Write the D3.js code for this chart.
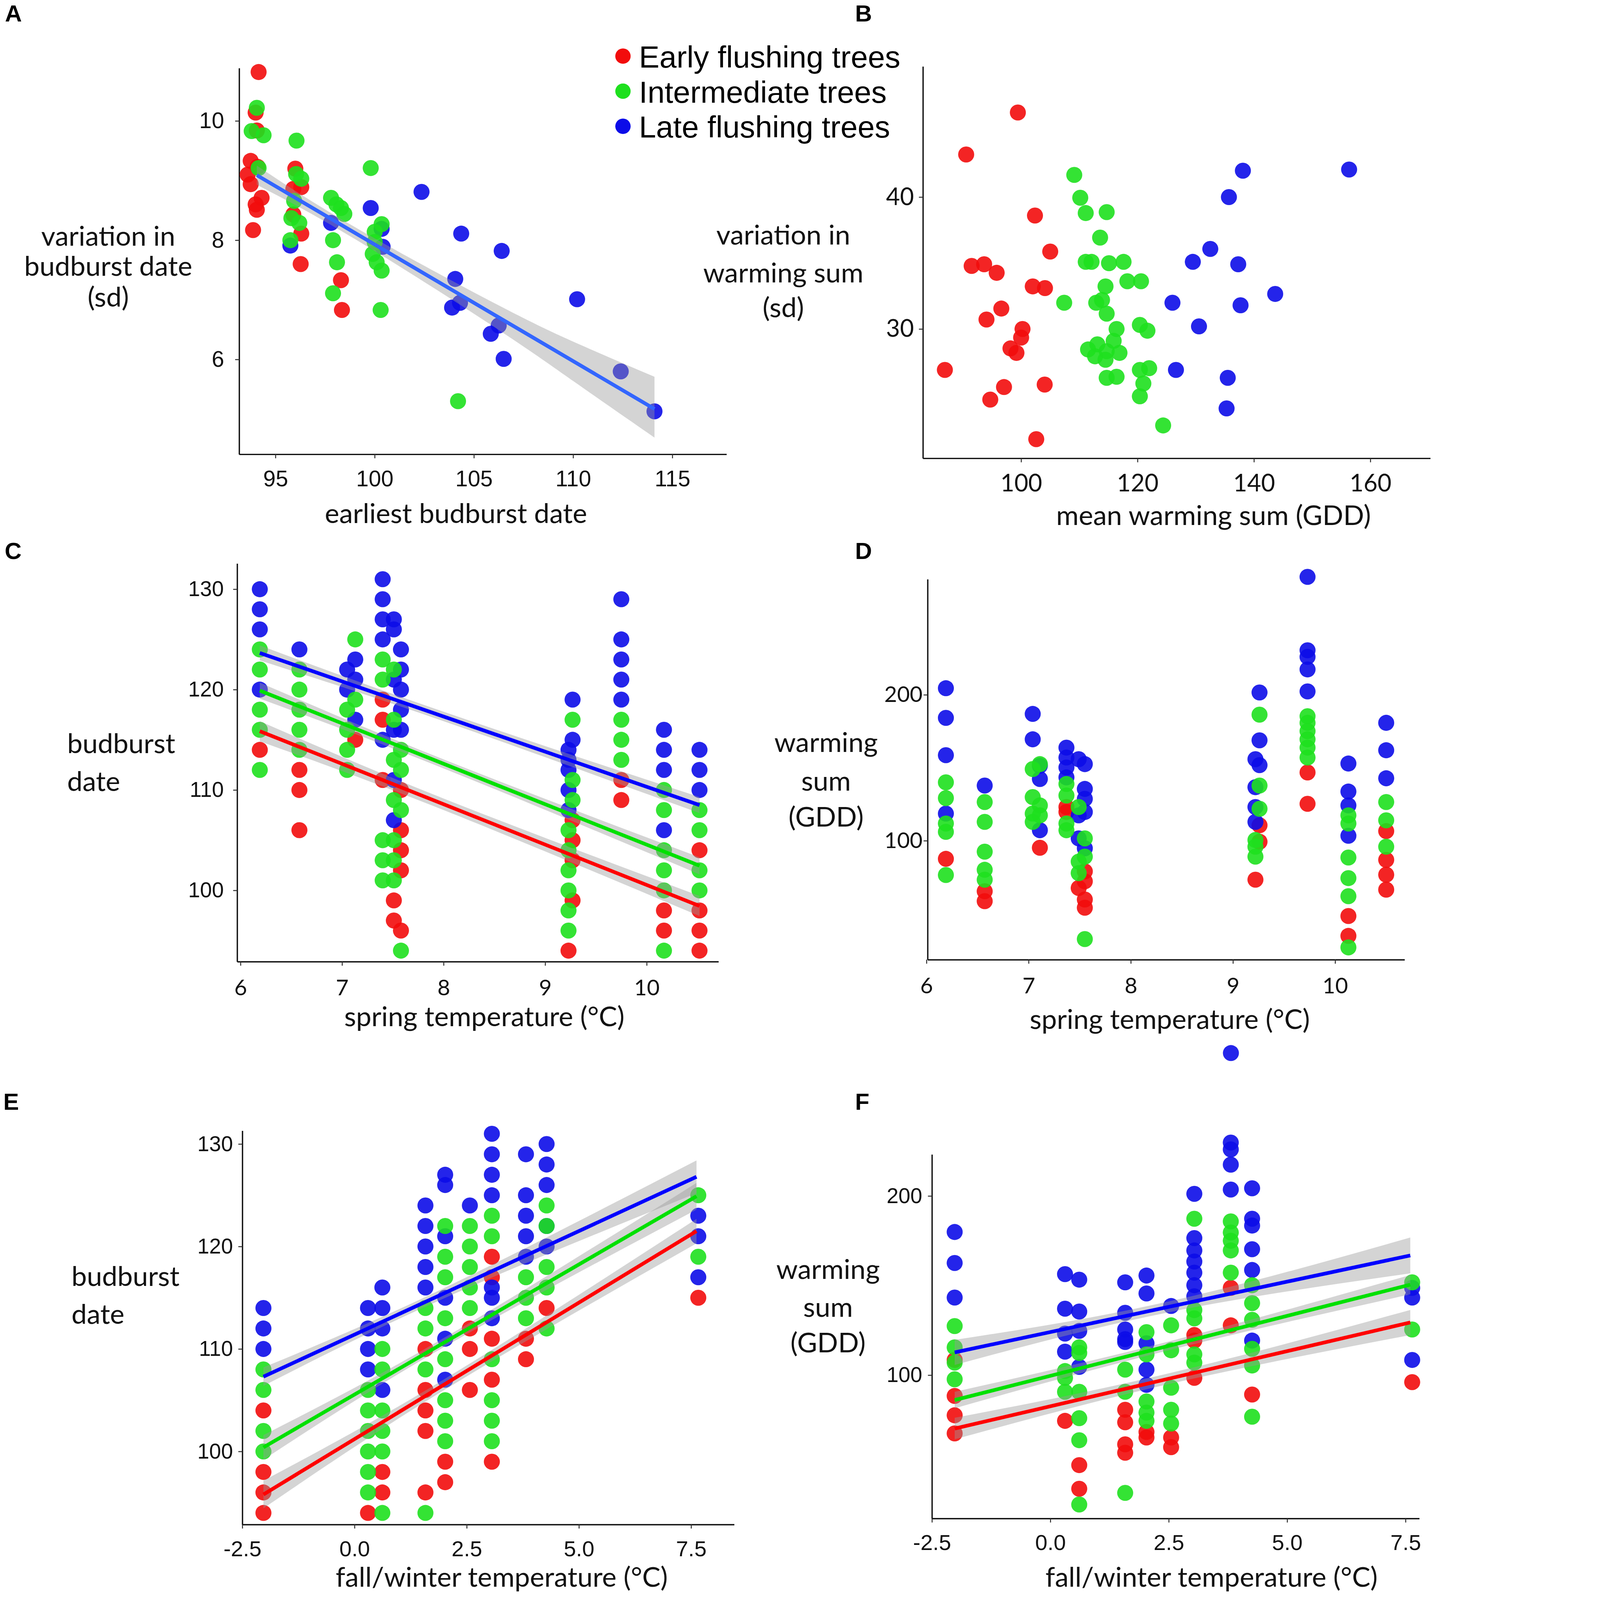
<!DOCTYPE html>
<html>
<head>
<meta charset="utf-8">
<script src="https://cdn.jsdelivr.net/npm/d3@7"></script>
<style>
  html, body { margin: 0; padding: 0; background: #fff; overflow: hidden; }
  #chart svg { display: block; }
</style>
</head>
<body>
<div id="chart"></div>
<script>
// ---- data ----
const groups = ["Early flushing trees", "Intermediate trees", "Late flushing trees"]

// A: earliest budburst date vs variation in budburst date (sd)
const aEarly = [[94.15,10.82],[94.0,10.14],[94.06,9.84],[93.75,9.33],[93.6,9.1],[94.1,9.23],[93.75,8.94],[94.3,8.71],[94.0,8.6],[94.06,8.51],[93.87,8.17],[96.0,9.2],[95.9,8.86],[96.3,8.89],[95.9,8.43],[96.3,8.11],[96.27,7.6],[98.3,7.33],[98.35,6.83]]
const aInter = [[94.06,10.22],[93.8,9.83],[94.4,9.76],[94.15,9.21],[96.06,9.67],[96.04,9.11],[96.3,9.03],[95.94,8.66],[95.8,8.37],[96.2,8.29],[95.75,8.0],[97.8,8.71],[98.07,8.6],[98.3,8.54],[98.47,8.44],[97.9,8.0],[98.1,7.63],[97.9,7.11],[99.8,9.21],[100.0,8.14],[100.35,8.27],[100.0,7.97],[99.9,7.77],[100.1,7.63],[100.35,7.49],[100.3,6.83],[104.2,5.3]]
const aLate = [[95.75,7.91],[97.8,8.29],[99.8,8.54],[100.35,8.19],[100.4,7.89],[102.36,8.81],[104.36,8.11],[106.4,7.82],[104.06,7.35],[103.9,6.87],[104.3,6.95],[105.85,6.43],[106.25,6.57],[106.5,6.01],[110.2,7.01],[112.4,5.8],[114.1,5.13]]
const aFit = [[94.06,9.09],[114.1,5.17]]
const aBand = [[94.06,8.93,9.25],[99,8.02,8.22],[106,6.55,6.95],[110,5.64,6.3],[114.1,4.69,5.71]]

// B: mean warming sum vs variation in warming sum (sd)
const bEarly = [[99.44,46.41],[90.56,43.23],[102.38,38.6],[105.0,35.87],[91.5,34.78],[93.65,34.91],[95.8,34.26],[102.0,33.23],[104.1,33.1],[96.6,31.55],[94.05,30.72],[100.24,30.0],[100.0,29.35],[98.17,28.53],[99.2,28.19],[86.9,26.9],[97.06,25.6],[104.05,25.79],[94.7,24.65],[102.6,21.65]]
const bInter = [[109.13,41.68],[110.16,39.95],[111.1,38.79],[114.7,38.86],[113.57,36.93],[111.1,35.09],[112.1,35.09],[115.1,34.99],[117.6,35.09],[114.5,33.23],[118.25,33.62],[120.6,33.62],[107.4,31.99],[112.9,31.99],[113.9,32.2],[114.7,31.16],[120.4,30.31],[121.7,29.87],[116.4,30.0],[115.9,29.1],[111.5,28.45],[113.1,28.84],[114.7,28.32],[112.7,27.93],[114.5,27.67],[116.9,28.19],[120.4,26.9],[122.0,27.03],[114.7,26.3],[116.4,26.38],[121.0,25.87],[120.4,24.9],[124.4,22.69]]
const bLate = [[138.1,42.0],[156.35,42.09],[135.7,40.0],[132.5,36.07],[129.5,35.09],[137.3,34.91],[143.65,32.66],[126.0,31.99],[137.7,31.8],[130.56,30.2],[126.6,26.9],[135.5,26.3],[135.3,23.98]]

// C: spring temperature vs budburst date
const cEarly = [[6.19,114],[6.58,112],[6.58,110],[6.58,106],[7.13,115],[7.40,119],[7.40,117],[7.40,111],[7.51,99],[7.51,97],[7.58,110],[7.58,106],[7.58,104],[7.58,102],[7.58,96],[9.27,107],[9.27,105],[9.27,103],[9.27,99],[9.23,94],[9.75,111],[9.75,109],[10.17,98],[10.17,96],[10.52,104],[10.52,98],[10.52,96],[10.52,94]]
const cInter = [[6.19,124],[6.19,122],[6.19,118],[6.19,116],[6.19,112],[6.58,122],[6.58,120],[6.58,118],[6.58,116],[6.58,114],[7.13,125],[7.13,119],[7.05,118],[7.05,116],[7.05,114],[7.05,112],[7.40,123],[7.40,121],[7.40,105],[7.40,103],[7.40,101],[7.51,122],[7.51,117],[7.51,113],[7.51,109],[7.51,105],[7.51,103],[7.51,101],[7.58,114],[7.58,112],[7.58,108],[7.58,94],[9.27,117],[9.27,111],[9.27,109],[9.23,106],[9.23,104],[9.23,102],[9.23,100],[9.23,98],[9.23,96],[9.75,117],[9.75,115],[9.75,113],[10.17,110],[10.17,108],[10.17,104],[10.17,102],[10.17,100],[10.17,94],[10.52,108],[10.52,106],[10.52,102],[10.52,100]]
const cLate = [[6.19,130],[6.19,128],[6.19,126],[6.19,120],[6.58,124],[7.05,122],[7.05,120],[7.13,123],[7.13,121],[7.13,117],[7.40,131],[7.40,129],[7.40,127],[7.40,125],[7.40,115],[7.51,127],[7.51,126],[7.51,121],[7.51,116],[7.51,111],[7.51,107],[7.58,124],[7.58,122],[7.58,120],[7.58,118],[7.58,116],[9.27,119],[9.27,115],[9.23,114],[9.23,113],[9.23,112],[9.23,110],[9.23,108],[9.75,129],[9.75,125],[9.75,123],[9.75,121],[9.75,119],[10.17,116],[10.17,114],[10.17,112],[10.17,106],[10.52,114],[10.52,112],[10.52,110]]
const cFits = [[[6.19,115.86],[10.52,98.45]], [[6.19,119.9],[10.52,102.46]], [[6.19,123.65],[10.52,108.5]]]
const cBands = [
	[[6.19,114.85,116.85],[8,108.0,109.15],[10.52,97.45,99.45]],
	[[6.19,119.1,120.7],[8,112.15,113.05],[10.52,101.6,103.3]],
	[[6.19,122.9,124.4],[8,116.85,117.8],[10.52,107.7,109.3]]
]

// D: spring temperature vs warming sum (GDD)
const dEarly = [[6.19,87.6],[6.57,65.4],[6.57,58.6],[7.11,95.2],[7.37,123.1],[7.37,119.7],[7.49,67.6],[7.55,79.0],[7.55,72.2],[7.55,59.7],[7.55,54.1],[9.26,110.6],[9.26,99.3],[9.22,73.3],[9.73,146.8],[9.73,125.3],[10.13,48.4],[10.13,34.8],[10.5,106.6],[10.5,86.9],[10.5,76.7],[10.5,66.5]]
const dInter = [[6.19,140],[6.19,129.2],[6.19,111.8],[6.19,106.1],[6.19,76.5],[6.57,126.5],[6.57,112.9],[6.57,92.5],[6.57,80.1],[6.57,73.3],[7.04,149.1],[7.11,152.5],[7.04,129.9],[7.11,124.2],[7.04,118.6],[7.04,112.9],[7.11,117.4],[7.37,138.9],[7.37,131.0],[7.37,111.8],[7.37,107.2],[7.49,123.1],[7.55,101.6],[7.49,85.7],[7.55,89.1],[7.49,77.8],[7.55,32.6],[9.26,186.4],[9.26,137.8],[9.26,121.9],[9.22,100.5],[9.22,89.1],[9.22,95.9],[9.73,185.3],[9.73,180.8],[9.73,175.1],[9.73,169.5],[9.73,163.8],[9.73,157.0],[10.13,117.4],[10.13,111.8],[10.13,88.5],[10.13,74.4],[10.13,62.0],[10.13,26.9],[10.5,126.5],[10.5,114.0],[10.5,95.9]]
const dLate = [[6.19,204.5],[6.19,184.2],[6.19,158.6],[6.19,118.6],[6.57,137.8],[7.04,186.9],[7.04,169.5],[7.11,151.4],[7.11,142.3],[7.11,107.2],[7.37,163.8],[7.37,157.0],[7.37,150.2],[7.37,143.4],[7.49,155.9],[7.55,152.5],[7.55,135.5],[7.55,128.7],[7.55,119.7],[7.49,117.4],[7.49,101.6],[7.55,94.8],[9.26,201.6],[9.26,168.8],[9.22,155.9],[9.26,151.8],[9.22,136.7],[9.22,123.1],[9.22,112.9],[9.73,280.8],[9.73,230.5],[9.73,226.0],[9.73,217.4],[9.73,202.3],[10.13,152.9],[10.13,133.7],[10.13,124.2],[10.13,103.4],[10.5,180.8],[10.5,162.0],[10.5,142.8],[8.98,-45.5]]

// E: fall/winter temperature vs budburst date
const eEarly = [[-2.03,104],[-2.03,98],[-2.03,96],[-2.03,94],[0.30,94],[0.62,98],[0.62,96],[1.58,110],[1.58,106],[1.58,104],[1.58,102],[1.58,96],[2.02,99],[2.02,97],[2.57,112],[2.57,110],[2.57,106],[3.06,119],[3.06,117],[3.06,111],[3.06,107],[3.06,99],[3.82,111],[3.82,109],[4.28,114],[7.66,115]]
const eInter = [[-2.03,108],[-2.03,106],[-2.03,102],[-2.03,100],[0.30,106],[0.30,104],[0.30,102],[0.30,100],[0.30,98],[0.30,96],[0.62,110],[0.62,108],[0.62,104],[0.62,102],[0.62,100],[0.62,94],[1.58,114],[1.58,112],[1.58,108],[1.58,94],[2.02,122],[2.02,119],[2.02,117],[2.02,113],[2.02,109],[2.02,105],[2.02,103],[2.02,101],[2.57,122],[2.57,120],[2.57,118],[2.57,116],[2.57,114],[3.06,123],[3.06,121],[3.06,109],[3.06,105],[3.06,103],[3.06,101],[3.82,117],[3.82,115],[3.82,113],[4.28,124],[4.28,122],[4.28,118],[4.28,116],[4.28,112],[7.66,125],[7.66,119]]
const eLate = [[-2.03,114],[-2.03,112],[-2.03,110],[0.30,114],[0.30,112],[0.30,110],[0.30,108],[0.62,116],[0.62,114],[0.62,112],[0.62,106],[1.58,124],[1.58,122],[1.58,120],[1.58,118],[1.58,116],[2.02,127],[2.02,126],[2.02,121],[2.02,115],[2.02,111],[2.02,107],[2.57,124],[3.06,131],[3.06,129],[3.06,127],[3.06,125],[3.06,116],[3.06,115],[3.06,113],[3.82,129],[3.82,125],[3.82,123],[3.82,121],[3.82,119],[4.28,130],[4.28,128],[4.28,126],[4.28,122],[4.28,120],[7.66,123],[7.66,121],[7.66,117]]
const eFits = [[[-2.03,95.8],[7.62,121.5]], [[-2.03,100.4],[7.62,124.9]], [[-2.03,107.3],[7.62,126.8]]]
const eBands = [
	[[-2.03,94.45,97.15],[2,106.0,107.05],[7.62,120.3,122.7]],
	[[-2.03,99.2,101.6],[2,110.2,111.1],[7.62,123.6,126.2]],
	[[-2.03,106.4,108.2],[2,114.95,115.95],[7.62,125.2,128.4]]
]

// F: fall/winter temperature vs warming sum (GDD)
const fEarly = [[-2.02,108.5],[-2.02,88.4],[-2.02,77.6],[-2.02,67.5],[0.31,74.5],[0.61,49.8],[0.61,36.6],[1.58,80.7],[1.58,73.7],[1.58,61.4],[1.58,56.7],[2.03,68.3],[2.03,65.2],[2.55,65.2],[2.55,59.8],[3.04,122.4],[3.04,119.3],[3.04,98.5],[3.81,148.7],[3.81,127.8],[4.26,89.2],[7.64,96.1]]
const fInter = [[-2.02,127.4],[-2.02,115.5],[-2.02,107],[-2.02,97.7],[0.31,102.3],[0.31,98.5],[0.31,90.7],[0.61,115.5],[0.61,112.4],[0.61,90.7],[0.61,76.0],[0.61,63.7],[0.61,27.8],[1.58,103.1],[1.58,90.7],[1.58,34.3],[2.03,124.0],[2.03,111.6],[2.03,85.3],[2.03,79.1],[2.03,74.5],[2.55,127.8],[2.55,113.9],[2.55,93.0],[2.55,80.7],[2.55,73.0],[3.04,187.3],[3.04,136.3],[3.04,131.7],[3.04,111.6],[3.04,107.0],[3.81,185.8],[3.81,179.6],[3.81,175.0],[3.81,169.6],[3.81,157.2],[4.26,150.2],[4.26,140.2],[4.26,130.9],[4.26,114.7],[4.26,105.4],[4.26,76.8],[7.64,151.8],[7.64,125.5]]
const fLate = [[-2.02,179.9],[-2.02,162.6],[-2.02,143.3],[0.31,156.4],[0.31,137.1],[0.31,123.2],[0.31,113.1],[0.61,153.3],[0.61,135.5],[0.61,124.7],[0.61,104.6],[1.58,151.8],[1.58,134.8],[1.58,125.5],[1.58,120.1],[1.58,118.5],[2.03,155.6],[2.03,145.6],[2.03,117.8],[2.03,103.1],[2.03,94.6],[2.55,138.6],[3.04,201.2],[3.04,176.5],[3.04,169.6],[3.04,163.4],[3.04,157.2],[3.04,150.2],[3.04,144.0],[3.81,229.8],[3.81,226.0],[3.81,217.5],[3.81,203.6],[4.26,204.3],[4.26,187.3],[4.26,183.5],[4.26,170.3],[4.26,158.7],[4.26,119.3],[7.64,148.7],[7.64,143.3],[7.64,108.5]]
const fFits = [[[-2.02,70.2],[7.6,129.4]], [[-2.02,86.1],[7.6,150.5]], [[-2.02,112.7],[7.6,166.8]]]
const fBands = [
	[[-2.02,64.2,76.2],[2.5,95.0,101.0],[7.6,122.4,136.4]],
	[[-2.02,81.5,90.7],[2.5,113.9,118.8],[7.6,145.1,155.9]],
	[[-2.02,105.7,119.7],[2.5,135.1,141.1],[7.6,156.8,176.8]]
]

// tick labels
const ticksA = { x: [95,100,105,110,115], y: [6,8,10] }
const ticksB = { x: [100,120,140,160], y: [30,40] }
const ticksC = { x: [6,7,8,9,10], y: [100,110,120,130] }
const ticksD = { x: [6,7,8,9,10], y: [100,200] }
const ticksE = { x: [-2.5,0,2.5,5,7.5], y: [100,110,120,130] }
const ticksF = { x: [-2.5,0,2.5,5,7.5], y: [100,200] }

// ---- styling ----
const pointColors = ["#f20c0c", "#1ee01e", "#0c0ce8"]
const lineColors = ["#ff0000", "#00e000", "#0000ff"]
const ARIAL = "'Liberation Sans', Arial, sans-serif"
const TITLE = "Lato, 'Open Sans', sans-serif"
const W = 4321, H = 4790

// the drawing is laid out in a 4321 x 4790 space and scaled to the window
const svg = d3.select("#chart").append("svg")
	.attr("viewBox", `0 0 ${W} ${H}`)
	.attr("preserveAspectRatio", "xMinYMin meet")
	.style("width", "100vw")
	.style("height", "100vh")
	.style("background", "#fff")

const fmt1 = d => d.toFixed(1)

const panels = [
	{ letter: "A", lx: 15, ly: 64, left: 716, right: 2175, top: 204, bottom: 1360,
	  xDom: [93.17, 117.73], yDom: [4.41, 10.885], ticks: ticksA,
	  pts: [aEarly, aLate, aInter], colorIdx: [0, 2, 1],
	  fits: [aFit], bands: [aBand], fitColors: ["#3366ff"],
	  xFont: [ARIAL, 67], yFont: [ARIAL, 67], xPad: 36, yPad: 33,
	  yTitle: { lines: ["variation in", "budburst date", "(sd)"], x: 324, y: [735, 826, 918], anchor: "middle" },
	  xTitle: { text: "earliest budburst date", x: 1365, y: 1566 } },
	{ letter: "B", lx: 2560, ly: 64, left: 2763, right: 4282, top: 199, bottom: 1372,
	  xDom: [83.13, 170.3], yDom: [20.2, 49.9], ticks: ticksB,
	  pts: [bEarly, bLate, bInter], colorIdx: [0, 2, 1],
	  fits: [], bands: [], fitColors: [],
	  xFont: [TITLE, 72], yFont: [TITLE, 72], xPad: 36, yPad: 15,
	  yTitle: { lines: ["variation in", "warming sum", "(sd)"], x: 2345, y: [732, 845, 950], anchor: "middle" },
	  xTitle: { text: "mean warming sum (GDD)", x: 3633, y: 1572 } },
	{ letter: "C", lx: 14, ly: 1673, left: 710, right: 2151, top: 1687, bottom: 2879,
	  xDom: [5.967, 10.707], yDom: [92.9, 132.56], ticks: ticksC,
	  pts: [cEarly, cLate, cInter], colorIdx: [0, 2, 1],
	  fits: cFits, bands: cBands, fitColors: lineColors,
	  xFont: [TITLE, 66], yFont: [ARIAL, 64], xPad: 42, yPad: 28,
	  yTitle: { lines: ["budburst", "date"], x: 201, y: [2255, 2368], anchor: "start" },
	  xTitle: { text: "spring temperature (°C)", x: 1450, y: 3072 } },
	{ letter: "D", lx: 2560, ly: 1673, left: 2777, right: 4205, top: 1734, bottom: 2873,
	  xDom: [6.011, 10.68], yDom: [18.5, 279.2], ticks: ticksD,
	  pts: [dEarly, dLate, dInter], colorIdx: [0, 2, 1],
	  fits: [], bands: [], fitColors: [],
	  xFont: [TITLE, 66], yFont: [TITLE, 66], xPad: 42, yPad: 3,
	  yTitle: { lines: ["warming", "sum", "(GDD)"], x: 2473, y: [2251, 2367, 2474], anchor: "middle" },
	  xTitle: { text: "spring temperature (°C)", x: 3502, y: 3080 } },
	{ letter: "E", lx: 10, ly: 3322, left: 725.5, right: 2198, top: 3385, bottom: 4564,
	  xDom: [-2.5, 8.46], yDom: [92.87, 131.3], ticks: ticksE, xFmt: fmt1,
	  pts: [eEarly, eLate, eInter], colorIdx: [0, 2, 1],
	  fits: eFits, bands: eBands, fitColors: lineColors,
	  xFont: [ARIAL, 66], yFont: [ARIAL, 64], xPad: 36, yPad: 16,
	  yTitle: { lines: ["budburst", "date"], x: 214, y: [3850, 3963], anchor: "start" },
	  xTitle: { text: "fall/winter temperature (°C)", x: 1502, y: 4750 } },
	{ letter: "F", lx: 2560, ly: 3322, left: 2790, right: 4249, top: 3456, bottom: 4546,
	  xDom: [-2.5, 7.79], yDom: [20.0, 223.2], ticks: ticksF, xFmt: fmt1,
	  pts: [fEarly, fLate, fInter], colorIdx: [0, 2, 1],
	  fits: fFits, bands: fBands, fitColors: lineColors,
	  xFont: [ARIAL, 66], yFont: [ARIAL, 64], xPad: 36, yPad: 17,
	  yTitle: { lines: ["warming", "sum", "(GDD)"], x: 2479, y: [3829, 3942, 4049], anchor: "middle" },
	  xTitle: { text: "fall/winter temperature (°C)", x: 3627, y: 4750 } }
]

function drawPanel(p) {
	const g = svg.append("g").attr("class", "panel_" + p.letter)

	const x = d3.scaleLinear().domain(p.xDom).range([p.left, p.right])
	const y = d3.scaleLinear().domain(p.yDom).range([p.bottom, p.top])

	// axes
	const xAxis = d3.axisBottom(x)
		.tickValues(p.ticks.x)
		.tickSize(12)
		.tickSizeOuter(0)
		.tickPadding(p.xPad)
		.tickFormat(p.xFmt ? p.xFmt : d3.format("d"))

	const xg = g.append("g")
		.attr("transform", `translate(0,${p.bottom})`)
		.call(xAxis)
	xg.selectAll("text")
		.attr("font-family", p.xFont[0])
		.attr("font-size", p.xFont[1])
		.attr("fill", "#111")

	const yAxis = d3.axisLeft(y)
		.tickValues(p.ticks.y)
		.tickSize(12)
		.tickSizeOuter(0)
		.tickPadding(p.yPad)
		.tickFormat(d3.format("d"))

	const yg = g.append("g")
		.attr("transform", `translate(${p.left},0)`)
		.call(yAxis)
	yg.selectAll("text")
		.attr("font-family", p.yFont[0])
		.attr("font-size", p.yFont[1])
		.attr("fill", "#111")

	g.selectAll(".domain").attr("stroke", "#111").attr("stroke-width", 4)
	g.selectAll(".tick line").attr("stroke", "#333").attr("stroke-width", 3)

	// points (intermediate trees drawn last, as in the figure)
	const pg = g.append("g").attr("class", "points")
	p.pts.forEach((series, i) => {
		pg.selectAll(null)
			.data(series)
			.enter()
			.append("circle")
			.attr("cx", d => x(d[0]))
			.attr("cy", d => y(d[1]))
			.attr("r", 24)
			.attr("fill", pointColors[p.colorIdx[i]])
			.attr("fill-opacity", 0.9)
	})

	// confidence bands
	const area = d3.area()
		.x(d => x(d[0]))
		.y0(d => y(d[1]))
		.y1(d => y(d[2]))
		.curve(d3.curveNatural)
	p.bands.forEach(b => {
		g.append("path")
			.attr("d", area(b))
			.attr("fill", "#999999")
			.attr("fill-opacity", 0.42)
	})

	// fitted lines
	const line = d3.line().x(d => x(d[0])).y(d => y(d[1]))
	p.fits.forEach((f, i) => {
		g.append("path")
			.attr("d", line(f))
			.attr("fill", "none")
			.attr("stroke", p.fitColors[i])
			.attr("stroke-width", 11)
	})

	// titles
	const yt = g.append("text")
		.attr("font-family", TITLE)
		.attr("font-size", 82)
		.attr("fill", "#111")
		.attr("text-anchor", p.yTitle.anchor)
	p.yTitle.lines.forEach((l, i) => {
		yt.append("tspan").attr("x", p.yTitle.x).attr("y", p.yTitle.y[i]).text(l)
	})

	g.append("text")
		.attr("x", p.xTitle.x)
		.attr("y", p.xTitle.y)
		.attr("text-anchor", "middle")
		.attr("font-family", TITLE)
		.attr("font-size", 82)
		.attr("fill", "#111")
		.text(p.xTitle.text)

	g.append("text")
		.attr("x", p.lx)
		.attr("y", p.ly)
		.attr("font-family", ARIAL)
		.attr("font-weight", "bold")
		.attr("font-size", 70)
		.attr("fill", "#000")
		.text(p.letter)
}

panels.forEach(drawPanel)

// legend
const legend = svg.append("g").attr("class", "legend")
const legendY = d3.scalePoint().domain(groups).range([168, 378])
groups.forEach((name, i) => {
	legend.append("circle")
		.attr("cx", 1865)
		.attr("cy", legendY(name))
		.attr("r", 23)
		.attr("fill", pointColors[i])
	legend.append("text")
		.attr("x", 1913)
		.attr("y", legendY(name) + 34)
		.attr("font-family", ARIAL)
		.attr("font-size", 92)
		.attr("fill", "#000")
		.text(name)
})
</script>
</body>
</html>
